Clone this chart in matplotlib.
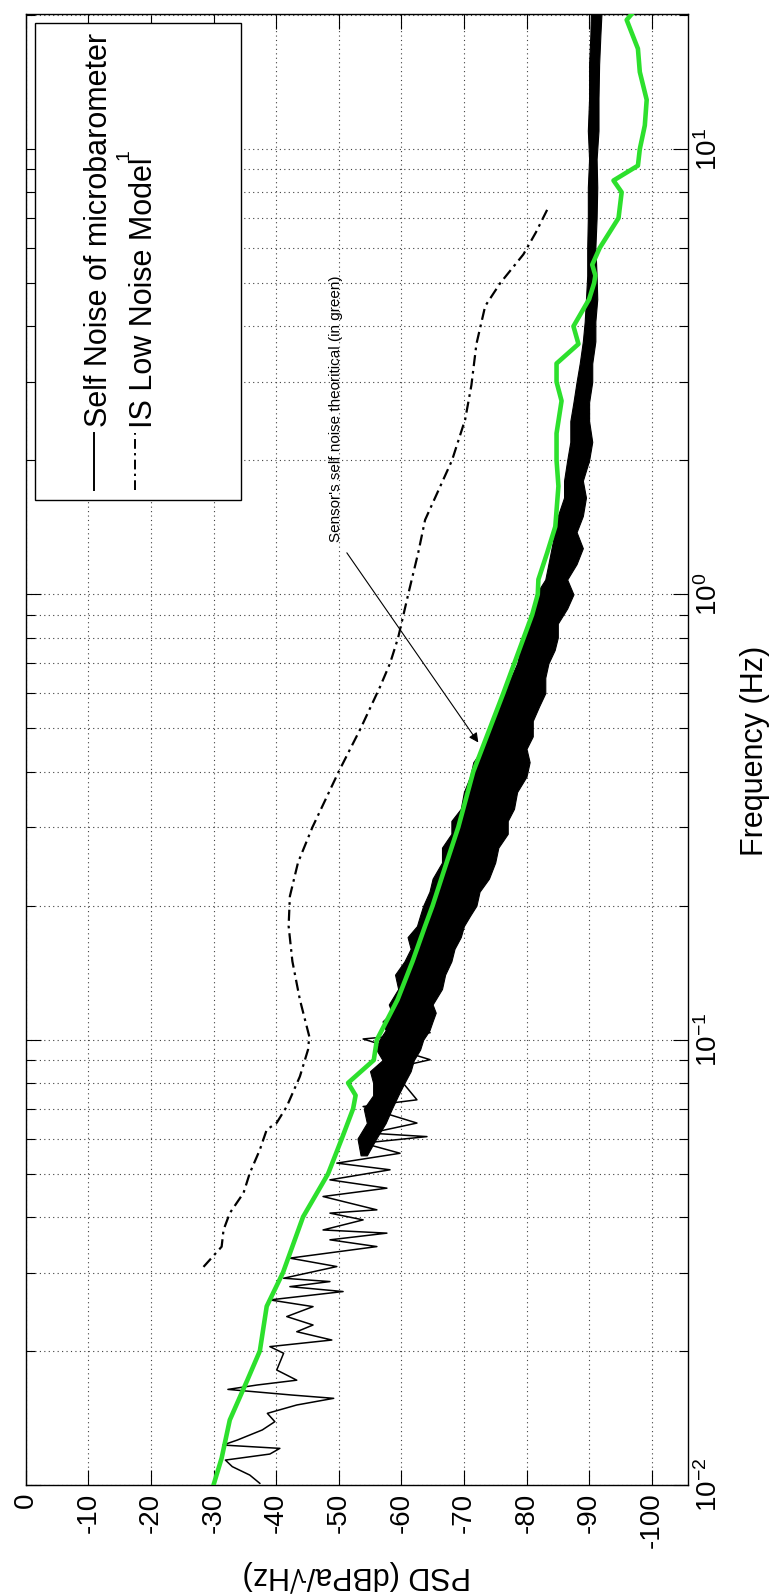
import matplotlib
matplotlib.use('Agg')
import matplotlib.pyplot as plt
from matplotlib.patches import Rectangle
from matplotlib.ticker import LogLocator, NullLocator, NullFormatter

plt.rcParams['font.family'] = ['Liberation Sans', 'DejaVu Sans']
plt.rcParams['axes.unicode_minus'] = False
plt.rcParams['mathtext.fontset'] = 'custom'
plt.rcParams['mathtext.rm'] = 'Liberation Sans'
plt.rcParams['mathtext.default'] = 'regular'

# self noise of microbarometer, sparse low-frequency part (Hz, dB)
noise_f = [0.01009, 0.01053, 0.0110, 0.01138, 0.01174, 0.01209, 0.0123, 0.01262,
           0.0133, 0.01388, 0.01449, 0.01513, 0.01566, 0.01593, 0.0164, 0.01678,
           0.0172, 0.01813, 0.01977, 0.02046, 0.02117, 0.0221, 0.02288, 0.0239,
           0.02516, 0.02605, 0.0272, 0.0279, 0.02864, 0.02914, 0.03095, 0.03233,
           0.03432, 0.03554, 0.03679, 0.0374, 0.0394, 0.0408, 0.0415, 0.04446,
           0.04642, 0.04846, 0.05105, 0.05284, 0.0556, 0.0586, 0.0606, 0.0617,
           0.065, 0.0708, 0.0733, 0.0799, 0.0871, 0.0902, 0.1004, 0.1037, 0.111]
noise_psd = [-37.4, -35.8, -33.0, -31.9, -39.0, -40.6, -31.5, -33.8,
             -37.8, -39.8, -38.6, -43.3, -49.2, -42.5, -32.3, -37.0,
             -43.3, -40.1, -41.2, -39.0, -48.9, -43.3, -45.9, -41.7,
             -45.9, -39.0, -50.7, -42.2, -48.6, -41.2, -49.7, -42.2,
             -56.1, -48.6, -57.7, -47.5, -53.9, -48.6, -56.1, -47.5,
             -57.7, -48.6, -58.2, -49.7, -59.8, -53.9, -64.1, -55.0,
             -62.5, -53.9, -62.5, -60.3, -59.8, -64.6, -53.9, -64.6, -60.9]

# dense part of the same curve: left and right edges of the band
band_f = [0.055, 0.06, 0.065, 0.07, 0.075, 0.08, 0.085, 0.09,
          0.095, 0.1, 0.105, 0.11, 0.115, 0.12, 0.13, 0.14, 0.15, 0.16, 0.17, 0.18,
          0.19, 0.2, 0.215, 0.23, 0.25, 0.27, 0.29, 0.31, 0.33, 0.36, 0.39, 0.42,
          0.45, 0.48, 0.52, 0.56, 0.6, 0.65, 0.7, 0.75, 0.8, 0.86, 0.93, 1.0, 1.08,
          1.17, 1.27, 1.38, 1.5, 1.65, 1.8, 2.0, 2.2, 2.45, 2.7, 3.0, 3.3, 3.7, 4.1,
          4.6, 5.2, 6.0, 7.0, 8.2, 9.5, 11.0, 13.0, 15.5, 18.0, 20.5]
band_hi = [-53.5, -53.0, -54.5, -54.0, -55.5, -55.5, -55.0, -57.0,
           -56.0, -56.5, -57.5, -57.0, -58.5, -58.0, -59.5, -59.0, -60.5, -61.5, -61.0, -62.5,
           -63.0, -63.5, -64.5, -65.0, -66.5, -66.5, -68.0, -68.0, -69.5, -70.0, -71.0, -71.5,
           -73.0, -73.5, -74.5, -75.5, -76.5, -77.5, -78.5, -79.0, -79.5, -80.5, -81.0, -81.5, -83.0,
           -83.5, -84.0, -84.5, -85.0, -86.0, -86.0, -86.5, -87.0, -87.0, -87.5, -88.0, -88.5, -89.0, -89.3,
           -89.5, -89.7, -89.7, -89.8, -89.8, -90.0, -89.8, -90.0, -90.0, -90.2, -90.3]
band_lo = [-54.5, -56.0, -57.5, -58.5, -59.5, -60.5, -61.5, -62.0,
           -63.0, -63.5, -64.5, -65.0, -65.5, -65.0, -66.5, -67.0, -68.0, -68.5, -69.5, -70.0,
           -71.0, -72.0, -72.5, -74.0, -75.0, -75.5, -77.0, -77.0, -78.0, -78.5, -80.0, -80.5,
           -80.0, -81.0, -81.0, -82.0, -83.0, -83.0, -83.5, -84.5, -85.0, -85.0, -86.5, -87.5, -86.5,
           -88.0, -89.0, -88.0, -89.0, -89.5, -89.0, -90.0, -90.5, -90.0, -90.0, -90.5, -90.5, -91.0, -91.0,
           -91.3, -91.2, -91.0, -91.2, -91.3, -91.2, -91.5, -91.5, -91.6, -91.8, -92.0]

# IS low noise model
model_f = [0.0309, 0.0343, 0.0374, 0.0408, 0.0453, 0.0502, 0.0566, 0.0628, 0.0651,
           0.0708, 0.0827, 0.095, 0.1017, 0.123, 0.15, 0.18, 0.21, 0.25, 0.3, 0.4,
           0.5, 0.62, 0.7, 0.8, 1.0, 1.24, 1.47, 2.0, 2.47, 2.95, 3.65, 4.44, 5.0,
           5.8, 6.5, 7.4]
model_psd = [-28.4, -31.3, -31.6, -32.6, -34.8, -35.8, -37.4, -38.5, -40.1,
             -41.7, -43.8, -45.1, -45.3, -43.8, -42.6, -42.0, -42.2, -43.5, -45.8, -50.0,
             -53.5, -56.6, -58.2, -59.5, -61.1, -62.7, -63.8, -68.1, -70.2, -71.2, -72.0, -73.4, -75.8,
             -79.5, -81.5, -83.5]

# theoretical sensor self noise (green)
theory_f = [0.01, 0.0115, 0.014, 0.0161, 0.0172, 0.02, 0.0252, 0.03, 0.04, 0.05,
            0.06, 0.07, 0.075, 0.08, 0.09, 0.1, 0.123, 0.15, 0.18, 0.2, 0.237, 0.3,
            0.4, 0.6, 0.9, 1.0, 1.08, 1.24, 1.42, 1.75, 2.0, 2.3, 2.72, 3.0, 3.3,
            3.65, 4.0, 4.6, 5.0, 5.2, 5.5, 6.0, 7.0, 8.0, 8.5, 9.18, 10.0, 11.3,
            12.9, 14.9, 16.8, 19.5, 20.1]
theory_psd = [-30.0, -31.3, -32.6, -34.5, -35.4, -37.4, -38.5, -41.1, -44.3, -48.3,
              -50.5, -52.3, -52.7, -51.5, -55.6, -56.1, -59.4, -61.8, -63.8, -65.0, -66.7, -69.1,
              -71.5, -76.3, -80.9, -81.8, -81.9, -83.3, -84.6, -85.1, -84.8, -84.8, -85.6, -84.8, -84.8,
              -88.3, -87.5, -90.0, -90.8, -91.0, -90.5, -91.7, -94.7, -95.2, -93.9, -97.8, -98.1, -98.9,
              -99.2, -98.1, -97.8, -96.0, -96.8]

psd_ticks = list(range(0, -101, -10))
psd_labels = [str(v) for v in psd_ticks]
freq_ticks = [0.01, 0.1, 1, 10]
freq_labels = ['$10^{-2}$', '$10^{-1}$', '$10^{0}$', '$10^{1}$']

dashdot = (0, (5, 2.2, 1.2, 2.2))

fig = plt.figure(figsize=(7.72, 15.96), dpi=100)
ax = fig.add_axes([0.0333, 0.0695, 0.8579, 0.9217])

ax.fill_betweenx(band_f, band_hi, band_lo, color='black', lw=0.8, zorder=3)
ax.plot(noise_psd, noise_f, color='black', lw=1.1, zorder=3)
ax.plot(model_psd, model_f, color='black', lw=1.6, ls=dashdot, zorder=3)
ax.plot(theory_psd, theory_f, color='#2de02d', lw=3.3, zorder=4)

ax.set_yscale('log')
ax.set_xlim(0, -105.8)
ax.set_ylim(0.01, 20.1)

ax.set_xticks(psd_ticks, labels=psd_labels)
ax.xaxis.set_minor_locator(NullLocator())
ax.set_yticks(freq_ticks, labels=freq_labels)
ax.yaxis.set_minor_locator(LogLocator(base=10, subs=range(2, 10)))
ax.yaxis.set_minor_formatter(NullFormatter())

ax.tick_params(which='both', direction='in', top=True, right=True, width=0.8,
               labelsize=20, labelleft=False, labelright=True)
ax.tick_params(which='major', length=10.8)
ax.tick_params(which='minor', length=6.5)
ax.tick_params(axis='x', labelrotation=90, pad=5.5)
ax.tick_params(axis='y', labelrotation=90, pad=5)
for lab in ax.get_yticklabels():
    lab.set_va('center')

for s in ax.spines.values():
    s.set_linewidth(1.0)

ax.set_axisbelow(True)
ax.grid(True, which='major', axis='x', ls=(0, (1, 3)), color='0.25', lw=0.8)
ax.grid(True, which='both', axis='y', ls=(0, (1, 3)), color='0.25', lw=0.8)

# legend drawn by hand, rotated like the rest of the chart
ax.add_patch(Rectangle((0.014, 0.6696), 0.3106, 0.3243, transform=ax.transAxes,
                       facecolor='white', edgecolor='black', lw=1.0, zorder=5))
ax.plot([0.1031, 0.1031], [0.6764, 0.7152], transform=ax.transAxes,
        color='black', lw=1.4, zorder=6)
ax.plot([0.1652, 0.1652], [0.6764, 0.7152], transform=ax.transAxes,
        color='black', lw=1.4, ls=dashdot, zorder=6)
ax.text(0.1228, 0.7192, 'Self Noise of microbarometer', transform=ax.transAxes,
        rotation=90, rotation_mode='anchor', ha='left', va='baseline',
        fontsize=22, zorder=6)
ax.text(0.1907, 0.7186, 'IS Low Noise Model', transform=ax.transAxes,
        rotation=90, rotation_mode='anchor', ha='left', va='baseline',
        fontsize=22, zorder=6)
ax.text(0.1545, 0.9005, '1', transform=ax.transAxes,
        rotation=90, rotation_mode='anchor', ha='left', va='baseline',
        fontsize=14, zorder=6)

# annotation
ax.annotate('', xy=(-72.3, 0.465), xytext=(-51.3, 1.24),
            arrowprops=dict(arrowstyle='-|>', color='black', lw=0.8,
                            mutation_scale=14, shrinkA=0, shrinkB=0), zorder=6)
ax.text(-50.2, 1.31, "Sensor's self noise theoritical (in green)",
        rotation=90, rotation_mode='anchor', ha='left', va='baseline',
        fontsize=11, zorder=6)

fig.text(755 / 772, 1 - 751 / 1596, 'Frequency (Hz)', rotation=90,
         ha='center', va='center', fontsize=22)
fig.text(357 / 772, 1 - 1576 / 1596, 'PSD (dBPa/\u221aHz)', rotation=180,
         ha='center', va='center', fontsize=22)

fig.savefig('out.png', dpi=100)
plt.close(fig)
